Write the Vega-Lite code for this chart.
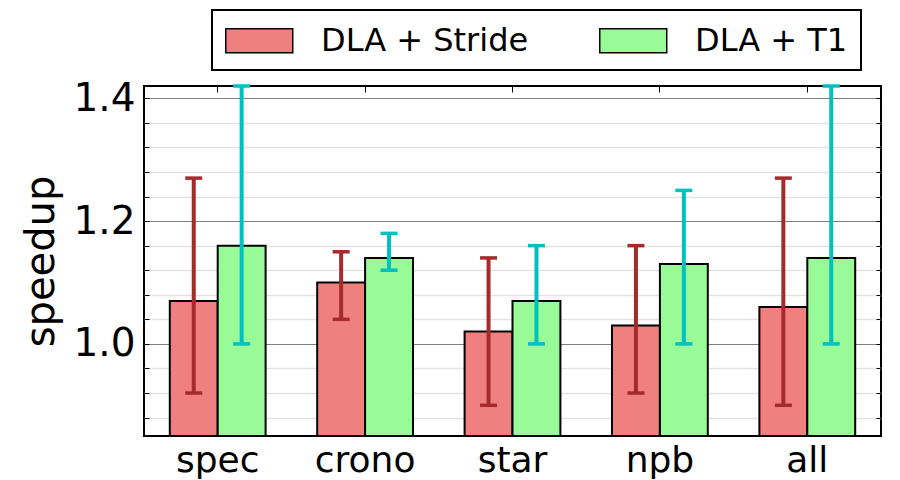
{
  "$schema": "https://vega.github.io/schema/vega-lite/v6.json",
  "width": 737,
  "height": 350,
  "autosize": {"type": "none"},
  "padding": {"left": 144, "top": 86, "right": 19, "bottom": 44},
  "background": "white",
  "config": {
    "font": "DejaVu Sans",
    "view": {"stroke": "black", "strokeWidth": 2},
    "axis": {"domain": false, "labelColor": "black", "titleColor": "black", "labelFont": "DejaVu Sans", "titleFont": "DejaVu Sans"},
    "legend": {"labelFont": "DejaVu Sans", "strokeWidth": 2}
  },
  "data": {
    "values": [
      {"bench": "spec", "series": "DLA + Stride", "value": 1.07, "lo": 0.92, "hi": 1.27},
      {"bench": "spec", "series": "DLA + T1", "value": 1.16, "lo": 1.00, "hi": 1.42},
      {"bench": "crono", "series": "DLA + Stride", "value": 1.10, "lo": 1.04, "hi": 1.15},
      {"bench": "crono", "series": "DLA + T1", "value": 1.14, "lo": 1.12, "hi": 1.18},
      {"bench": "star", "series": "DLA + Stride", "value": 1.02, "lo": 0.90, "hi": 1.14},
      {"bench": "star", "series": "DLA + T1", "value": 1.07, "lo": 1.00, "hi": 1.16},
      {"bench": "npb", "series": "DLA + Stride", "value": 1.03, "lo": 0.92, "hi": 1.16},
      {"bench": "npb", "series": "DLA + T1", "value": 1.13, "lo": 1.00, "hi": 1.25},
      {"bench": "all", "series": "DLA + Stride", "value": 1.06, "lo": 0.90, "hi": 1.27},
      {"bench": "all", "series": "DLA + T1", "value": 1.14, "lo": 1.00, "hi": 1.42}
    ]
  },
  "encoding": {
    "x": {
      "field": "bench", "type": "nominal",
      "sort": ["spec", "crono", "star", "npb", "all"],
      "scale": {"paddingInner": 0.35, "paddingOuter": 0.175}
    },
    "xOffset": {
      "field": "series", "type": "nominal",
      "scale": {"paddingInner": 0, "paddingOuter": 0}
    }
  },
  "layer": [
    {
      "mark": {"type": "bar", "stroke": "black", "strokeWidth": 2},
      "encoding": {
        "x": {
          "field": "bench", "type": "nominal",
          "sort": ["spec", "crono", "star", "npb", "all"],
          "axis": {"title": null, "labelAngle": 0, "labelFontSize": 36, "labelPadding": 7, "ticks": false, "grid": false}
        },
        "y": {
          "field": "value", "type": "quantitative",
          "scale": {"domain": [0.85, 1.42], "nice": false, "zero": false},
          "axis": {
            "orient": "left", "title": "speedup", "titleFontSize": 40, "titleFontWeight": "normal", "titlePadding": 11,
            "values": [1.0, 1.2, 1.4], "format": ".1f", "labelFontSize": 39, "labelPadding": 9,
            "ticks": false, "grid": true, "gridColor": "#808080", "gridWidth": 1.2
          }
        },
        "y2": {"datum": 0.85},
        "fill": {
          "field": "series", "type": "nominal",
          "scale": {"domain": ["DLA + Stride", "DLA + T1"], "range": ["#f08080", "#98fb98"]},
          "legend": {
            "title": null, "orient": "none", "legendX": 68, "legendY": -76, "direction": "horizontal",
            "labelFontSize": 32, "labelColor": "black", "labelOffset": 61, "labelLimit": 400, "columnPadding": 67,
            "symbolType": "M-1,-0.716H3V0.716H-1Z", "symbolSize": 1122,
            "symbolStrokeColor": "black", "symbolStrokeWidth": 1.5, "symbolOpacity": 1,
            "strokeColor": "black", "fillColor": "white", "padding": 13, "cornerRadius": 0
          }
        }
      }
    },
    {
      "mark": {"type": "rule", "strokeWidth": 4},
      "encoding": {
        "x": {
          "field": "bench", "type": "nominal",
          "sort": ["spec", "crono", "star", "npb", "all"],
          "axis": {"orient": "top", "title": null, "labels": false, "ticks": true, "tickSize": -6, "tickColor": "black", "tickWidth": 1, "grid": false}
        },
        "y": {
          "field": "lo", "type": "quantitative",
          "axis": {
            "orient": "left", "title": null, "labels": false, "ticks": false,
            "values": [0.88, 0.92, 0.96, 1.04, 1.08, 1.12, 1.16, 1.24, 1.28, 1.32, 1.36],
            "grid": true, "gridColor": "#e3e3e3", "gridWidth": 1.5
          }
        },
        "y2": {"field": "hi"},
        "stroke": {
          "field": "series", "type": "nominal",
          "scale": {"domain": ["DLA + Stride", "DLA + T1"], "range": ["#a52a2a", "#00c0c0"]},
          "legend": null
        }
      }
    },
    {
      "mark": {"type": "tick", "size": 17, "thickness": 3.5, "opacity": 1},
      "encoding": {
        "x": {"field": "bench", "type": "nominal", "sort": ["spec", "crono", "star", "npb", "all"], "axis": null},
        "y": {
          "field": "hi", "type": "quantitative",
          "axis": {
            "orient": "left", "title": null, "labels": false, "grid": false,
            "values": [0.88, 0.92, 0.96, 1.0, 1.04, 1.08, 1.12, 1.16, 1.2, 1.24, 1.28, 1.32, 1.36, 1.4],
            "ticks": true, "tickSize": -5, "tickColor": "black", "tickWidth": 1
          }
        },
        "color": {
          "field": "series", "type": "nominal",
          "scale": {"domain": ["DLA + Stride", "DLA + T1"], "range": ["#a52a2a", "#00c0c0"]},
          "legend": null
        }
      }
    },
    {
      "mark": {"type": "tick", "size": 17, "thickness": 3.5, "opacity": 1},
      "encoding": {
        "x": {"field": "bench", "type": "nominal", "sort": ["spec", "crono", "star", "npb", "all"], "axis": null},
        "y": {
          "field": "lo", "type": "quantitative",
          "axis": {
            "orient": "right", "title": null, "labels": false, "grid": false,
            "values": [0.88, 0.92, 0.96, 1.0, 1.04, 1.08, 1.12, 1.16, 1.2, 1.24, 1.28, 1.32, 1.36, 1.4],
            "ticks": true, "tickSize": -5, "tickColor": "black", "tickWidth": 1
          }
        },
        "color": {
          "field": "series", "type": "nominal",
          "scale": {"domain": ["DLA + Stride", "DLA + T1"], "range": ["#a52a2a", "#00c0c0"]},
          "legend": null
        }
      }
    }
  ],
  "resolve": {"axis": {"x": "independent", "y": "independent"}, "scale": {"color": "independent", "stroke": "independent"}}
}
